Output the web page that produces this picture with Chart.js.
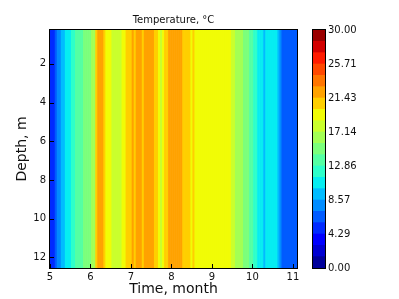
<!DOCTYPE html>
<html><head><meta charset="utf-8">
<script src="https://cdn.jsdelivr.net/npm/chart.js@4.4.1/dist/chart.umd.min.js"></script>
<style>
html,body{margin:0;padding:0;background:#fff;}
#wrap{position:relative;width:399px;height:299px;overflow:hidden;}
#main{position:absolute;left:0;top:0;}
#cbar{position:absolute;left:300px;top:0;}
</style></head><body>
<div id="wrap">
<canvas id="main" width="399" height="299"></canvas>
<canvas id="cbar" width="99" height="299"></canvas>
</div>
<script>
// Time (months) of each sampled column
const times = [5.00,5.05,5.10,5.15,5.20,5.25,5.30,5.35,5.40,5.45,5.50,5.55,5.60,5.65,5.70,5.75,5.80,5.85,5.90,5.95,
  6.00,6.05,6.10,6.15,6.20,6.25,6.30,6.35,6.40,6.45,6.50,6.55,6.60,6.65,6.70,6.75,6.80,6.85,6.90,6.95,
  7.00,7.05,7.10,7.15,7.20,7.25,7.30,7.35,7.40,7.45,7.50,7.55,7.60,7.65,7.70,7.75,7.80,7.85,7.90,7.95,
  8.00,8.05,8.10,8.15,8.20,8.25,8.30,8.35,8.40,8.45,8.50,8.55,8.60,8.65,8.70,8.75,8.80,8.85,8.90,8.95,
  9.00,9.05,9.10,9.15,9.20,9.25,9.30,9.35,9.40,9.45,9.50,9.55,9.60,9.65,9.70,9.75,9.80,9.85,9.90,9.95,
  10.00,10.05,10.10,10.15,10.20,10.25,10.30,10.35,10.40,10.45,10.50,10.55,10.60,10.65,10.70,10.75,10.80,10.85,10.90,10.95,
  11.00,11.05,11.10];
// Temperature (°C) of each column (nearly uniform with depth)
const temps = [5.5,5.5,5.5,6,7.5,8,9,9.5,10,11,11,11.5,12.5,13,13,13.5,14,14.5,15,15,
  15.5,16.5,17,20.5,21.5,22,21.5,21,19.5,19,19,18.5,18,17.5,18,18.5,19,19.5,20.5,21,
  21,21.5,21,22,22,21.5,21,22,21.5,22,22,21.5,20.5,20,19.5,18,19,20.5,21,21.5,
  22,21.5,22,21.5,22,21.5,21,21,20.5,20.5,19.5,20,19.5,19.5,19.5,19.5,19.5,19.5,19.5,19.5,
  19.5,19,19,19,19,19,19,19,19,19,18,17.5,17,17,16.5,16,15.5,15,14.5,14,
  13,12.5,12,11,11,10.5,9.5,10,10.5,10.5,11,11,10.5,9,8,7,6.5,6.5,6.5,6.5,
  6.5,6.5,6.5];
const depthRange = [0.25, 12.55];
const xTicks = [5,6,7,8,9,10,11];
const yTicks = [2,4,6,8,10,12];
const levels = [0,1.4286,2.8571,4.2857,5.7143,7.1429,8.5714,10,11.4286,12.8571,14.2857,15.7143,
  17.1429,18.5714,20,21.4286,22.8571,24.2857,25.7143,27.1429,28.5714,30];
const cbarTicks = [0,4.2857,8.5714,12.8571,17.1429,21.4286,25.7143,30];

// matplotlib "jet" colormap
const JET = {
  r:[[0,0],[0.35,0],[0.66,1],[0.89,1],[1,0.5]],
  g:[[0,0],[0.125,0],[0.375,1],[0.64,1],[0.91,0],[1,0]],
  b:[[0,0.5],[0.11,1],[0.34,1],[0.65,0],[1,0]]
};
function seg(pts, v){
  for(let i=1;i<pts.length;i++){
    if(v<=pts[i][0]){const [x0,y0]=pts[i-1],[x1,y1]=pts[i];return y0+(y1-y0)*(v-x0)/(x1-x0);}
  }
  return pts[pts.length-1][1];
}
function jet(v){
  return 'rgb('+Math.round(255*seg(JET.r,v))+','+Math.round(255*seg(JET.g,v))+','+Math.round(255*seg(JET.b,v))+')';
}
const nBands = levels.length-1;
function bandColor(t){
  let k=0;
  for(let i=0;i<nBands;i++){ if(t>=levels[i]) k=i; }
  return jet((k+0.5)/nBands);
}

Chart.defaults.font.family = "'DejaVu Sans', sans-serif";
Chart.defaults.color = '#111';

const framePlugin = {
  id:'frame',
  afterDatasetsDraw(chart){
    const a = chart.chartArea, c = chart.ctx;
    c.save(); c.strokeStyle='#000'; c.lineWidth=1;
    c.strokeRect(Math.round(a.left)-0.5, Math.round(a.top)-0.5, Math.round(a.right-a.left)+1, Math.round(a.bottom-a.top)+1);
    // inward tick marks (matplotlib style)
    const xs = chart.scales.x, ys = chart.scales.y;
    if (xs && xs.options.display !== false) {
      xs.ticks.forEach(t=>{const p=Math.round(xs.getPixelForValue(t.value))+0.5;
        c.beginPath(); c.moveTo(p,a.bottom); c.lineTo(p,a.bottom-4); c.stroke();});
    }
    if (ys && chart.canvas.id==='main') {
      ys.ticks.forEach(t=>{const p=Math.round(ys.getPixelForValue(t.value))+0.5;
        c.beginPath(); c.moveTo(a.left,p); c.lineTo(a.left+4,p); c.stroke();});
    }
    c.restore();
  }
};

new Chart(document.getElementById('main'), {
  type:'bar',
  data:{datasets:[{
    data: times.map(t=>({x:t, y:depthRange})),
    backgroundColor: temps.map(bandColor),
    borderWidth:0, barPercentage:1, categoryPercentage:1
  }]},
  options:{
    responsive:false, animation:false,
    layout:{padding:{right:102}},
    plugins:{
      legend:{display:false}, tooltip:{enabled:false},
      title:{display:true, text:'Temperature, °C', fullSize:false,
        font:{size:10, weight:'normal'}, color:'#111', padding:{top:14,bottom:4}}
    },
    scales:{
      x:{type:'linear', min:5, max:11.1, offset:false,
        grid:{display:false, drawTicks:false}, border:{display:false},
        afterBuildTicks:s=>{s.ticks = xTicks.map(v=>({value:v}));},
        afterFit:s=>{s.height=31;},
        ticks:{padding:3, font:{size:10}, color:'#111', maxRotation:0, autoSkip:false},
        title:{display:true, text:'Time, month', font:{size:14}, color:'#111', padding:{top:0,bottom:1.5}}
      },
      y:{type:'linear', reverse:true, min:depthRange[0], max:depthRange[1],
        grid:{display:false, drawTicks:false}, border:{display:false},
        afterBuildTicks:s=>{s.ticks = yTicks.map(v=>({value:v}));},
        afterFit:s=>{s.width=50;},
        ticks:{padding:4, font:{size:10}, color:'#111', autoSkip:false},
        title:{display:true, text:'Depth, m', font:{size:14}, color:'#111', padding:{top:14,bottom:0}}
      }
    }
  },
  plugins:[framePlugin]
});

new Chart(document.getElementById('cbar'), {
  type:'bar',
  data:{labels:[''], datasets: levels.slice(0,-1).map((lo,i)=>({
    data:[[lo, levels[i+1]]], backgroundColor: jet((i+0.5)/nBands),
    borderWidth:0, grouped:false, barPercentage:1, categoryPercentage:1
  }))},
  options:{
    responsive:false, animation:false,
    layout:{padding:{left:13, top:30, bottom:31}},
    plugins:{legend:{display:false}, tooltip:{enabled:false}},
    scales:{
      x:{display:false},
      y:{position:'right', min:0, max:30,
        grid:{display:false, drawTicks:false}, border:{display:false},
        afterBuildTicks:s=>{s.ticks = cbarTicks.map(v=>({value:v}));},
        afterFit:s=>{s.width=74;},
        ticks:{padding:3, font:{size:10}, color:'#111', autoSkip:false, callback:v=>Number(v).toFixed(2)}
      }
    }
  },
  plugins:[framePlugin]
});
</script>
</body></html>
